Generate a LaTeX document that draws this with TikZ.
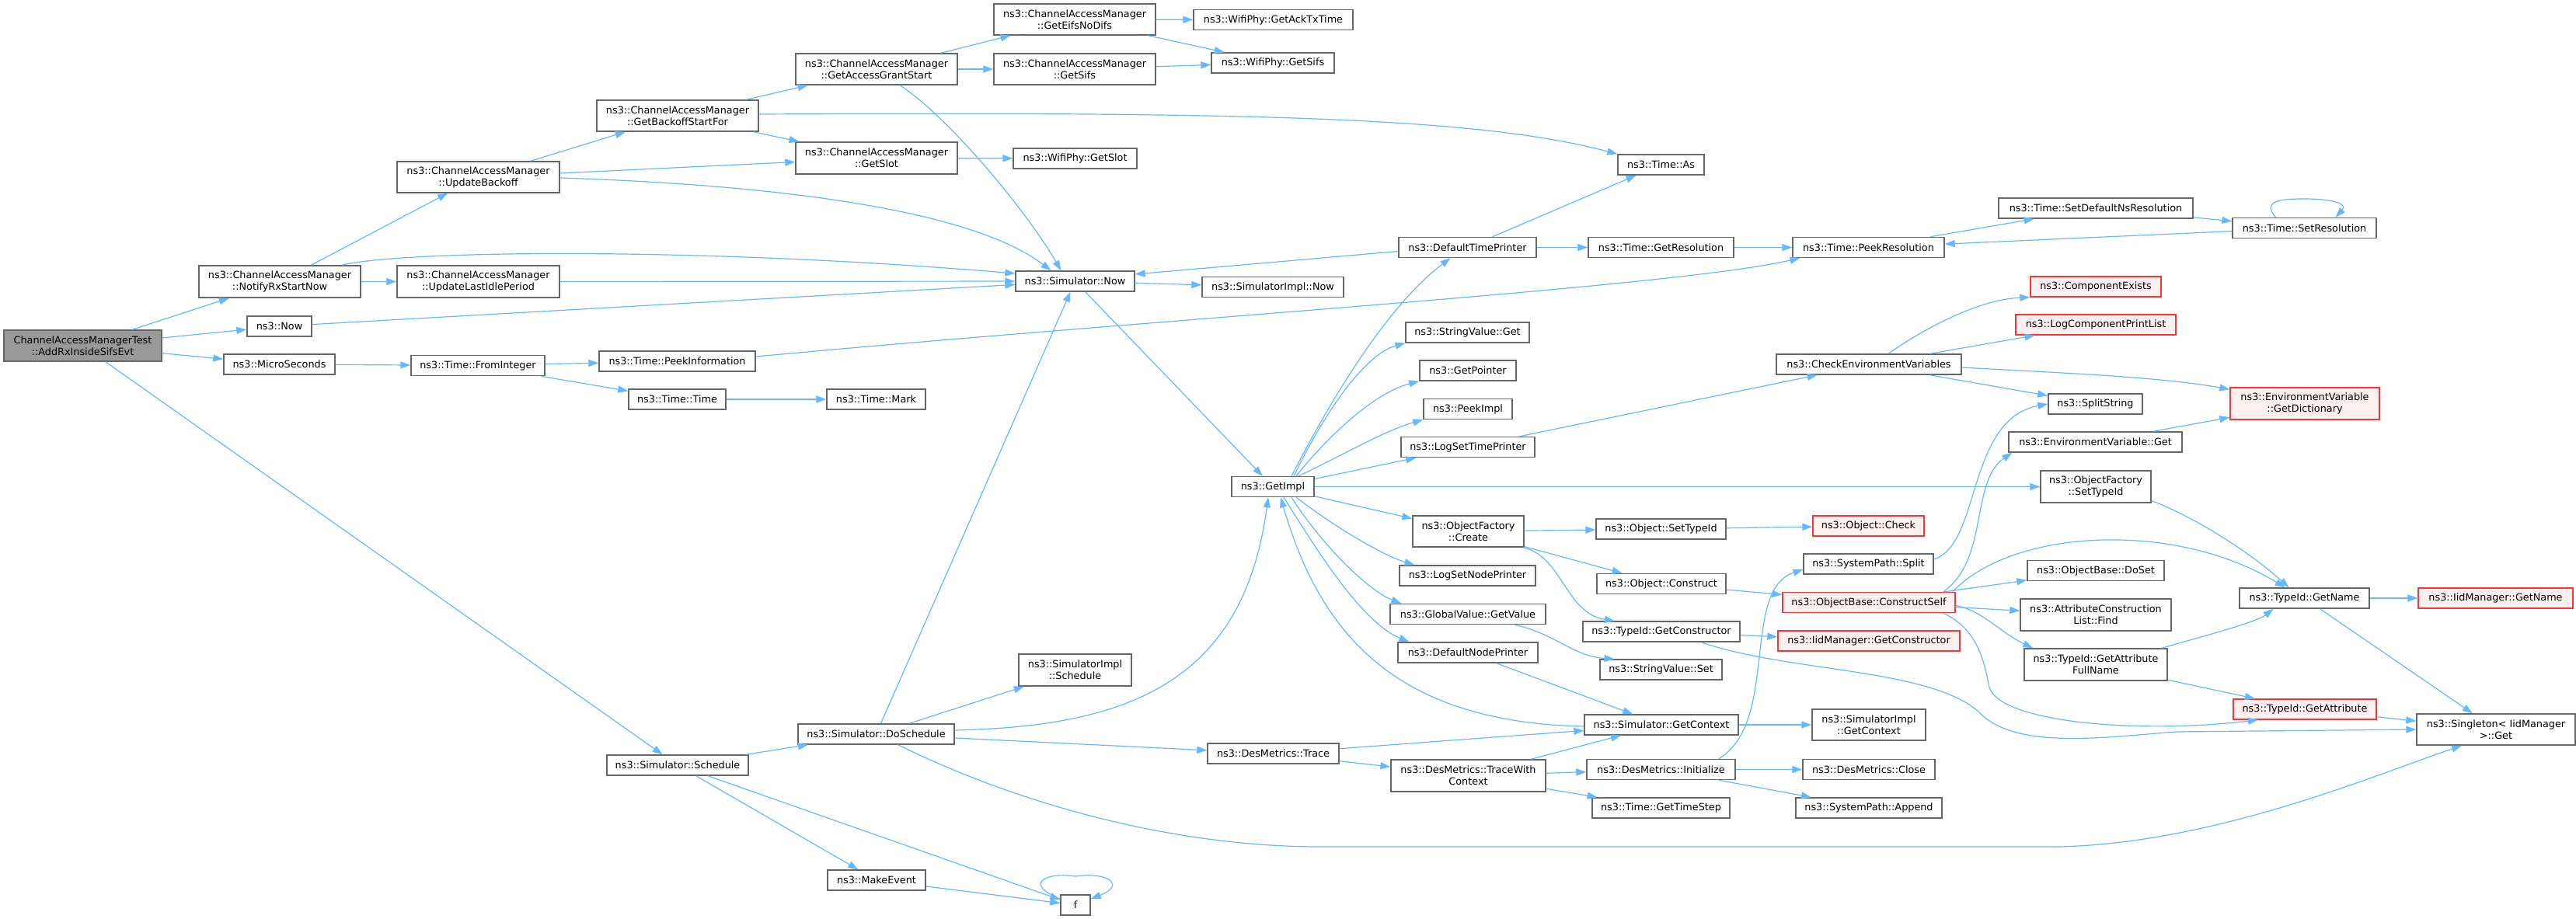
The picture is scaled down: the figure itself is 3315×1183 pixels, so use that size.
\documentclass[tikz,border=0pt]{standalone}
\usepackage{fontspec}
\usepackage{tikz}
\usepackage{xcolor}
\usetikzlibrary{arrows.meta}
\setmainfont{DejaVu Sans}
\definecolor{edgeblue}{HTML}{63B8FF}
\definecolor{boxgray}{HTML}{666666}
\definecolor{boxred}{HTML}{FF3333}
\definecolor{redfill}{HTML}{FFF0F0}
\definecolor{rootfill}{HTML}{999999}
\tikzset{
    fn/.style={draw=boxgray, fill=white, line width=1.4pt, inner sep=0pt, align=center,
        font=\fontsize{12.8pt}{15pt}\selectfont},
    fnred/.style={fn, draw=boxred, fill=redfill},
    fnroot/.style={fn, fill=rootfill},
    callarrow/.style={draw=edgeblue, line width=1.2pt, -{Triangle[length=13pt,width=9pt]}}
}
\newcommand{\callbox}[7]{
    \node[#1, minimum width=#5, minimum height=#6] (#2) at (#3,#4) {#7};
}

\begin{document}
\begin{tikzpicture}[x=1pt, y=-1pt]
\useasboundingbox (0,0) rectangle (3315,1183);
\callbox{fnroot}{root}{106.5}{445}{203}{40}{ChannelAccessManagerTest\\::AddRxInsideSifsEvt}
\callbox{fn}{notify}{360}{362.5}{208}{41}{ns3::ChannelAccessManager\\::NotifyRxStartNow}
\callbox{fn}{updbackoff}{615.5}{228}{209}{40}{ns3::ChannelAccessManager\\::UpdateBackoff}
\callbox{fn}{updidle}{615.5}{362.5}{209}{41}{ns3::ChannelAccessManager\\::UpdateLastIdlePeriod}
\callbox{fn}{backoffstart}{872}{149}{208}{40}{ns3::ChannelAccessManager\\::GetBackoffStartFor}
\callbox{fn}{grantstart}{1128}{89}{208}{40}{ns3::ChannelAccessManager\\::GetAccessGrantStart}
\callbox{fn}{eifs}{1383}{25}{208}{40}{ns3::ChannelAccessManager\\::GetEifsNoDifs}
\callbox{fn}{camsifs}{1383}{89}{208}{40}{ns3::ChannelAccessManager\\::GetSifs}
\callbox{fn}{camslot}{1128}{203.5}{208}{41}{ns3::ChannelAccessManager\\::GetSlot}
\callbox{fn}{acktx}{1638.5}{25.5}{205}{26}{ns3::WifiPhy::GetAckTxTime}
\callbox{fn}{physifs}{1638}{81}{158}{26}{ns3::WifiPhy::GetSifs}
\callbox{fn}{physlot}{1383.5}{204}{159}{26}{ns3::WifiPhy::GetSlot}
\callbox{fn}{simnow}{1383.5}{362}{153}{26}{ns3::Simulator::Now}
\callbox{fn}{implnow}{1638}{369.5}{182}{26}{ns3::SimulatorImpl::Now}
\callbox{fn}{timeas}{2137.5}{212}{111}{26}{ns3::Time::As}
\callbox{fn}{deftimeprinter}{1888.5}{318.5}{177}{26}{ns3::DefaultTimePrinter}
\callbox{fn}{getres}{2137.5}{318.5}{187}{26}{ns3::Time::GetResolution}
\callbox{fn}{peekres}{2404.5}{318.5}{195}{26}{ns3::Time::PeekResolution}
\callbox{fn}{setdefns}{2697}{268}{250}{26}{ns3::Time::SetDefaultNsResolution}
\callbox{fn}{setres}{2965.5}{293.5}{185}{26}{ns3::Time::SetResolution}
\callbox{fnred}{compexists}{2697}{369}{168}{26}{ns3::ComponentExists}
\callbox{fn}{now}{359.5}{420}{83}{26}{ns3::Now}
\callbox{fn}{micro}{359.5}{469}{143}{26}{ns3::MicroSeconds}
\callbox{fn}{fromint}{615}{470.5}{172}{26}{ns3::Time::FromInteger}
\callbox{fn}{peekinfo}{871.5}{465}{201}{26}{ns3::Time::PeekInformation}
\callbox{fn}{timetime}{871.5}{514}{125}{26}{ns3::Time::Time}
\callbox{fn}{mark}{1127.5}{514}{127}{26}{ns3::Time::Mark}
\callbox{fn}{getimpl}{1638}{626.5}{106}{26}{ns3::GetImpl}
\callbox{fn}{strget}{1888.5}{428}{159}{26}{ns3::StringValue::Get}
\callbox{fn}{getpointer}{1889}{477}{124}{26}{ns3::GetPointer}
\callbox{fn}{peekimpl}{1889}{526.5}{114}{26}{ns3::PeekImpl}
\callbox{fn}{logtime}{1889}{575.5}{172}{26}{ns3::LogSetTimePrinter}
\callbox{fn}{checkenv}{2405}{469}{238}{26}{ns3::CheckEnvironmentVariables}
\callbox{fnred}{logcomp}{2697}{418}{206}{26}{ns3::LogComponentPrintList}
\callbox{fn}{splitstring}{2696.5}{520}{121}{26}{ns3::SplitString}
\callbox{fnred}{getdict}{2966}{519.5}{192}{41}{ns3::EnvironmentVariable\\::GetDictionary}
\callbox{fn}{envget}{2696.5}{569}{223}{26}{ns3::EnvironmentVariable::Get}
\callbox{fn}{ofsettype}{2697}{626.5}{142}{41}{ns3::ObjectFactory\\::SetTypeId}
\callbox{fn}{ofcreate}{1889.5}{684}{143}{40}{ns3::ObjectFactory\\::Create}
\callbox{fn}{objsettype}{2137.5}{681}{167}{26}{ns3::Object::SetTypeId}
\callbox{fnred}{objcheck}{2404.5}{677}{143}{26}{ns3::Object::Check}
\callbox{fn}{lognode}{1888.5}{741}{175}{26}{ns3::LogSetNodePrinter}
\callbox{fn}{objconstruct}{2138}{751.5}{166}{26}{ns3::Object::Construct}
\callbox{fn}{pathsplit}{2404.5}{726}{167}{26}{ns3::SystemPath::Split}
\callbox{fnred}{constructself}{2405}{775.5}{222}{26}{ns3::ObjectBase::ConstructSelf}
\callbox{fn}{globalget}{1889}{790.5}{200}{26}{ns3::GlobalValue::GetValue}
\callbox{fn}{doset}{2697}{734.5}{176}{26}{ns3::ObjectBase::DoSet}
\callbox{fn}{attrfind}{2697}{791.5}{194}{41}{ns3::AttributeConstruction\\List::Find}
\callbox{fn}{tidgetname}{2965.5}{770}{167}{26}{ns3::TypeId::GetName}
\callbox{fnred}{iidgetname}{3211.5}{770}{199}{26}{ns3::IidManager::GetName}
\callbox{fn}{tidgetctor}{2138}{813}{202}{26}{ns3::TypeId::GetConstructor}
\callbox{fnred}{iidgetctor}{2405}{825}{234}{26}{ns3::IidManager::GetConstructor}
\callbox{fn}{defnodeprinter}{1889}{840}{180}{26}{ns3::DefaultNodePrinter}
\callbox{fn}{strset}{2137.5}{862}{157}{26}{ns3::StringValue::Set}
\callbox{fn}{attrfullname}{2697}{855.5}{184}{41}{ns3::TypeId::GetAttribute\\FullName}
\callbox{fnred}{getattr}{2966}{913}{184}{26}{ns3::TypeId::GetAttribute}
\callbox{fn}{singleton}{3212}{939}{204}{40}{ns3::Singleton< IidManager\\>::Get}
\callbox{fn}{implsched}{1383.5}{862.5}{145}{41}{ns3::SimulatorImpl\\::Schedule}
\callbox{fn}{doschedule}{1127.5}{945}{201}{26}{ns3::Simulator::DoSchedule}
\callbox{fn}{schedule}{872}{985}{182}{26}{ns3::Simulator::Schedule}
\callbox{fn}{dmtrace}{1638.5}{970}{169}{26}{ns3::DesMetrics::Trace}
\callbox{fn}{getcontext}{2138}{933}{198}{26}{ns3::Simulator::GetContext}
\callbox{fn}{implcontext}{2405}{933}{146}{40}{ns3::SimulatorImpl\\::GetContext}
\callbox{fn}{tracectx}{1889.5}{998.5}{199}{41}{ns3::DesMetrics::TraceWith\\Context}
\callbox{fn}{dminit}{2137.5}{990.5}{191}{26}{ns3::DesMetrics::Initialize}
\callbox{fn}{dmclose}{2405}{990.5}{170}{26}{ns3::DesMetrics::Close}
\callbox{fn}{timestep}{2137.5}{1040}{177}{26}{ns3::Time::GetTimeStep}
\callbox{fn}{pathappend}{2405}{1040}{188}{26}{ns3::SystemPath::Append}
\callbox{fn}{makeevent}{1128}{1133}{126}{26}{ns3::MakeEvent}
\callbox{fn}{ffun}{1384}{1165}{38}{26}{f}
\foreach \a/\b in {
    root/notify, root/now, root/micro, root/schedule,
    notify/updbackoff, notify/updidle, updbackoff/backoffstart, updbackoff/camslot,
    updidle/simnow, backoffstart/grantstart, backoffstart/camslot,
    grantstart/eifs, grantstart/camsifs, eifs/acktx, eifs/physifs, camsifs/physifs,
    camslot/physlot, now/simnow, simnow/implnow, simnow/getimpl,
    micro/fromint, fromint/peekinfo, fromint/timetime, timetime/mark,
    deftimeprinter/timeas, deftimeprinter/getres, getres/peekres,
    peekres/setdefns, setdefns/setres, setres/peekres,
    getimpl/ofsettype, getimpl/ofcreate, logtime/checkenv,
    checkenv/logcomp, checkenv/splitstring, envget/getdict,
    ofcreate/objsettype, ofcreate/objconstruct, objsettype/objcheck,
    objconstruct/constructself, constructself/doset, constructself/attrfind,
    tidgetname/iidgetname, tidgetname/singleton, attrfullname/getattr, getattr/singleton,
    tidgetctor/iidgetctor, defnodeprinter/getcontext, getcontext/implcontext,
    dmtrace/getcontext, dmtrace/tracectx, tracectx/getcontext, tracectx/dminit,
    tracectx/timestep, dminit/dmclose, dminit/pathappend,
    schedule/doschedule, schedule/makeevent, schedule/ffun, doschedule/simnow,
    doschedule/implsched, doschedule/dmtrace, makeevent/ffun%
}{
    \draw[callarrow] (\a) -- (\b);
}
\draw[callarrow] ([xshift=-25pt]notify.north east) .. controls (520,322) and (900,318) .. ([yshift=10pt]simnow.west);
\draw[callarrow] ([yshift=-1pt]updbackoff.east) .. controls (1000,238) and (1250,270) .. ([xshift=-31pt]simnow.north);
\draw[callarrow] ([yshift=2pt]backoffstart.east) .. controls (1600,144) and (1900,150) .. (timeas.north west);
\draw[callarrow] ([xshift=30pt]grantstart.south) .. controls (1220,150) and (1320,270) .. ([xshift=-18pt]simnow.north);
\draw[callarrow] ([yshift=6pt]peekinfo.east) .. controls (1500,410) and (2150,370) .. ([xshift=-88pt]peekres.south);
\draw[callarrow] ([yshift=-5pt]deftimeprinter.west) -- ([yshift=9pt]simnow.east);
\draw[callarrow] ([xshift=-37pt]setres.north) .. controls (2910,258) and (2935,256) .. (2966,256)
    .. controls (3000,256) and (3022,262) .. ([xshift=40pt]setres.north);
\draw[callarrow] ([xshift=24pt]getimpl.north) .. controls (1720,500) and (1790,390) .. ([xshift=-22pt]deftimeprinter.south);
\draw[callarrow] ([xshift=27pt]getimpl.north) .. controls (1710,520) and (1760,455) .. (strget.south west);
\draw[callarrow] ([xshift=30pt]getimpl.north) .. controls (1710,560) and (1770,505) .. (getpointer.south west);
\draw[callarrow] ([xshift=33pt]getimpl.north) .. controls (1720,590) and (1780,555) .. (peekimpl.south west);
\draw[callarrow] ([yshift=10pt]getimpl.east) -- ([xshift=20pt]logtime.south west);
\draw[callarrow] ([xshift=30pt]getimpl.south) .. controls (1720,680) and (1780,715) .. ([xshift=20pt]lognode.north west);
\draw[callarrow] ([xshift=24pt]getimpl.south) .. controls (1700,700) and (1760,760) .. ([xshift=15pt]globalget.north west);
\draw[callarrow] ([xshift=14pt]getimpl.south) .. controls (1690,700) and (1750,800) .. ([xshift=15pt]defnodeprinter.north west);
\draw[callarrow] ([yshift=-2pt]getcontext.west) .. controls (1800,930) and (1700,820) .. ([xshift=10pt]getimpl.south);
\draw[callarrow] ([yshift=5pt]doschedule.east) .. controls (1450,935) and (1600,880) .. ([xshift=-6pt]getimpl.south);
\draw[callarrow] ([xshift=25pt]checkenv.north) .. controls (2480,420) and (2550,385) .. (compexists.south west);
\draw[callarrow] ([yshift=-4pt]checkenv.east) .. controls (2650,480) and (2780,485) .. ([yshift=-3pt]getdict.north west);
\draw[callarrow] ([xshift=-2pt]ofcreate.south east) .. controls (2010,715) and (2015,790) .. ([xshift=-60pt]tidgetctor.north);
\draw[callarrow] ([xshift=-22pt]dminit.north east) .. controls (2290,930) and (2240,760) .. ([yshift=-7pt]pathsplit.west);
\draw[callarrow] ([yshift=6pt]pathsplit.east) .. controls (2550,700) and (2530,540) .. (splitstring.west);
\draw[callarrow] ([xshift=-16pt]constructself.north east) .. controls (2560,720) and (2535,620) .. ([xshift=5pt]envget.south west);
\draw[callarrow] ([xshift=-4pt]constructself.north east) .. controls (2590,680) and (2800,670) .. ([xshift=-25pt]tidgetname.north);
\draw[callarrow] ([yshift=-4pt]constructself.east) .. controls (2550,785) and (2575,815) .. ([xshift=12pt]attrfullname.north west);
\draw[callarrow] ([xshift=-16pt]constructself.south east) .. controls (2545,810) and (2553,850) .. (2560,885)
    .. controls (2575,930) and (2750,945) .. ([xshift=-60pt]getattr.south);
\draw[callarrow] ([yshift=-18pt]ofsettype.east) .. controls (2830,668) and (2900,715) .. ([xshift=-20pt]tidgetname.north);
\draw[callarrow] ([xshift=-8pt]attrfullname.north east) .. controls (2850,815) and (2905,800) .. ([xshift=-40pt]tidgetname.south);
\draw[callarrow] ([xshift=51pt]tidgetctor.south) .. controls (2300,865) and (2480,860) .. (2545,915)
    .. controls (2590,965) and (2700,950) .. (2800,942) -- (singleton.west);
\draw[callarrow] ([xshift=60pt]globalget.south) .. controls (2000,815) and (2025,845) .. ([xshift=-60pt]strset.north);
\draw[callarrow] ([xshift=28pt]doschedule.south) .. controls (1300,1030) and (1500,1090) .. (1700,1090) -- (2650,1090)
    .. controls (2850,1085) and (3050,1000) .. ([xshift=-44pt]singleton.south);
\draw[callarrow] ([yshift=8pt]ffun.west) .. controls (1320,1140) and (1340,1122) .. (1384,1128)
    .. controls (1428,1122) and (1448,1140) .. ([yshift=8pt]ffun.east);
\end{tikzpicture}
\end{document}
